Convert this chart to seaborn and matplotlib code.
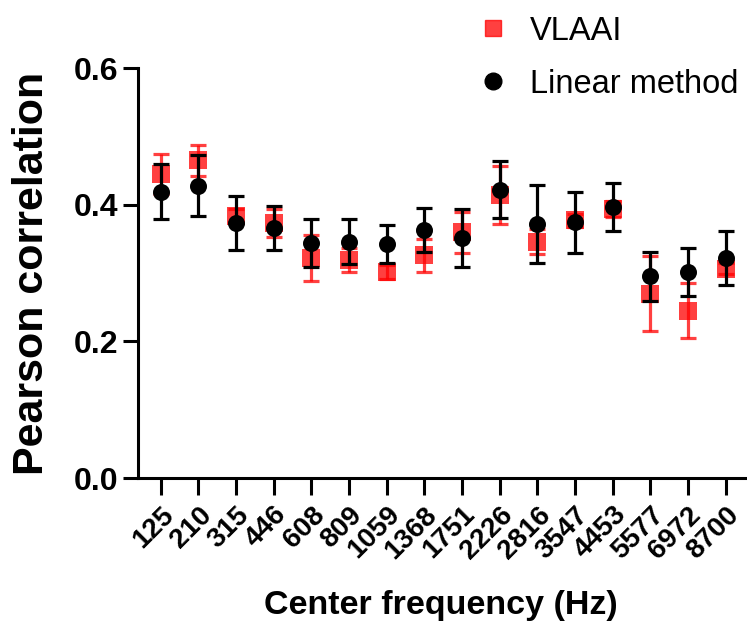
import numpy as np
import pandas as pd
import seaborn as sns
import matplotlib.pyplot as plt
from matplotlib.lines import Line2D

# center frequencies (Hz) and Pearson correlations
freqs = ['125', '210', '315', '446', '608', '809', '1059', '1368', '1751',
         '2226', '2816', '3547', '4453', '5577', '6972', '8700']
vlaai = [0.445, 0.465, 0.384, 0.373, 0.322, 0.319, 0.301, 0.326, 0.360,
         0.414, 0.346, 0.377, 0.394, 0.270, 0.245, 0.306]
vlaai_err = [0.029, 0.023, 0.010, 0.020, 0.033, 0.018, 0.010, 0.024, 0.030,
             0.043, 0.018, 0.010, 0.012, 0.055, 0.040, 0.008]
linear = [0.419, 0.428, 0.373, 0.366, 0.344, 0.346, 0.342, 0.363, 0.351,
          0.422, 0.372, 0.374, 0.397, 0.295, 0.302, 0.322]
linear_err = [0.040, 0.045, 0.040, 0.032, 0.035, 0.033, 0.028, 0.032, 0.042,
              0.042, 0.057, 0.045, 0.035, 0.036, 0.035, 0.039]

df = pd.DataFrame({'freq': freqs, 'pos': np.arange(len(freqs)),
                   'vlaai': vlaai, 'vlaai_err': vlaai_err,
                   'linear': linear, 'linear_err': linear_err})

sns.set_style('ticks')
plt.rcParams['font.family'] = ['Liberation Sans', 'DejaVu Sans']
plt.rcParams.update({'text.color': 'black', 'axes.labelcolor': 'black',
                     'xtick.color': 'black', 'ytick.color': 'black',
                     'axes.edgecolor': 'black'})

red = (1.0, 0.0, 0.0, 0.75)

fig = plt.figure(figsize=(7.47, 6.25), dpi=100)
ax = fig.add_axes([0.1847, 0.2352, 0.812, 0.656])

# VLAAI: red squares + error bars
ax.errorbar(df['pos'], df['vlaai'], yerr=df['vlaai_err'], fmt='none',
            ecolor=red, elinewidth=2.3, capsize=6, capthick=2.3, zorder=2)
sns.scatterplot(data=df, x='pos', y='vlaai', marker='s', color=red,
                s=150, linewidth=0, ax=ax, zorder=3)

# linear method: black circles + error bars
ax.errorbar(df['pos'], df['linear'], yerr=df['linear_err'], fmt='none',
            ecolor='black', elinewidth=2.3, capsize=6, capthick=2.3, zorder=4)
sns.scatterplot(data=df, x='pos', y='linear', marker='o', color='black',
                s=150, linewidth=0, ax=ax, zorder=5)

ax.set_xlim(-0.6, 15.5)
ax.set_ylim(0, 0.6)
ax.set_yticks([0.0, 0.2, 0.4, 0.6])
ax.set_yticklabels(['0.0', '0.2', '0.4', '0.6'], fontsize=23, fontweight='bold')
ax.set_xticks(df['pos'])
ax.set_xticklabels(df['freq'], fontsize=20, fontweight='bold', rotation=45,
                   ha='right', va='top', rotation_mode='anchor')
ax.tick_params(axis='x', length=12, width=2.2, pad=5)
ax.tick_params(axis='y', length=11, width=2.2, pad=3)
for s in ['left', 'bottom']:
    ax.spines[s].set_linewidth(2.2)
sns.despine(ax=ax)

ax.set_xlabel('Center frequency (Hz)', fontsize=24.5, fontweight='bold', labelpad=19)
ax.set_ylabel('Pearson correlation', fontsize=31, fontweight='bold', labelpad=16)

handles = [Line2D([], [], marker='s', color=red, linestyle='none', markersize=12),
           Line2D([], [], marker='o', color='black', linestyle='none', markersize=12)]
fig.legend(handles, ['VLAAI', 'Linear method'], loc='upper left',
           bbox_to_anchor=(0.638, 0.975), frameon=False, fontsize=23.5,
           handlelength=1, handletextpad=0.63, labelspacing=0.68,
           borderpad=0, borderaxespad=0)

fig.savefig('out.png', dpi=100)
